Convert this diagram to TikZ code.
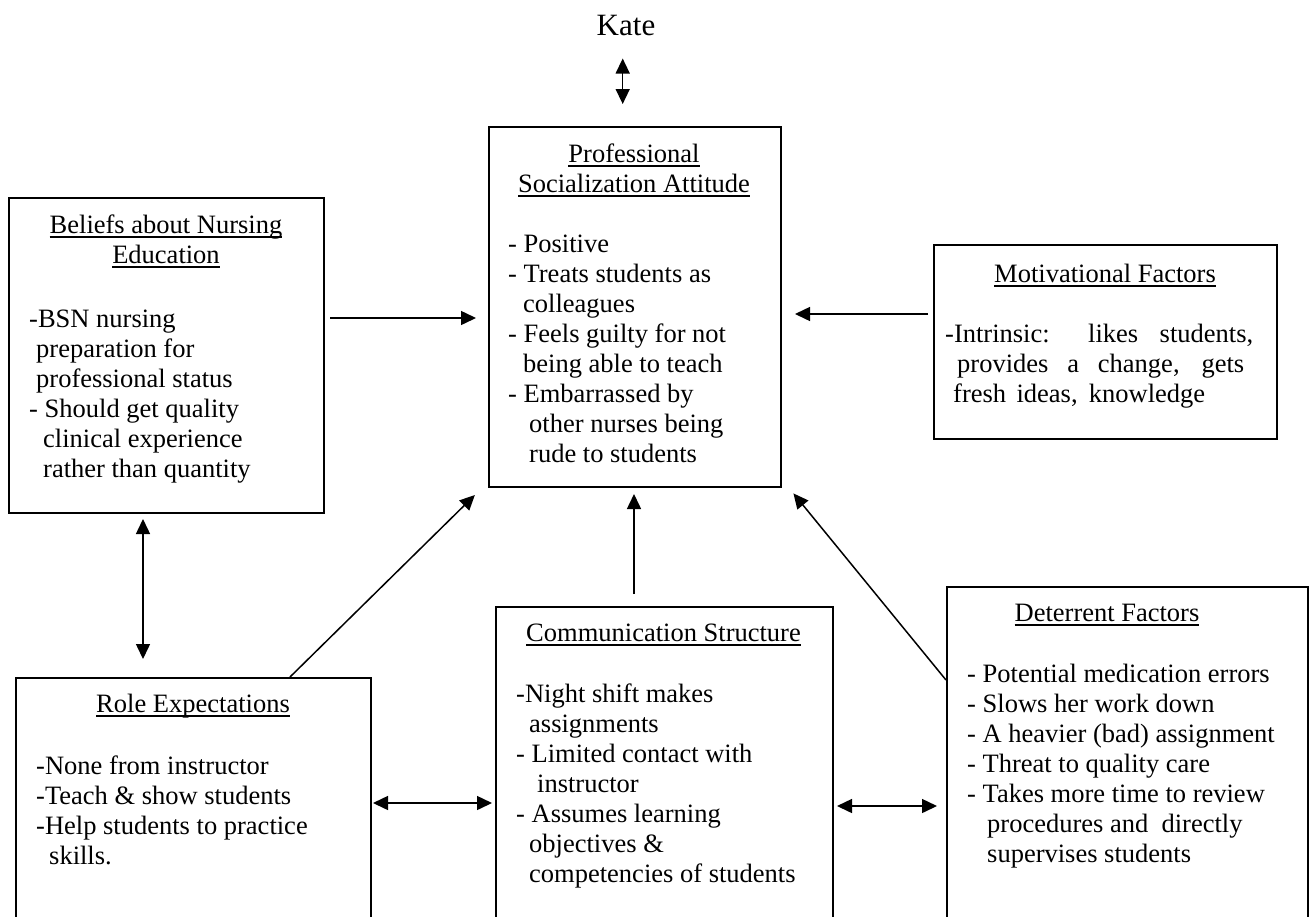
\documentclass[tikz,border=0pt]{standalone}
\usepackage{fontspec}
\setmainfont{Liberation Serif}
\usetikzlibrary{arrows.meta,calc}

% underline at a fixed distance below the baseline
\newsavebox\ulbox
\newcommand\ulin[1]{\sbox\ulbox{#1}\rlap{\rule[-4.5pt]{\wd\ulbox}{1.3pt}}\usebox\ulbox}

\tikzset{
  box/.style={draw, line width=2pt, anchor=north west, inner sep=0pt},
  txt/.style={inner sep=0pt, font=\fontsize{26.5}{30}\selectfont},
  body/.style={txt, align=left, anchor=north west},
  head/.style={txt, align=center, anchor=north},
  arr/.style={line width=1.5pt, -{Triangle[length=15pt,width=14pt]}},
  biarr/.style={line width=1.5pt, {Triangle[length=15pt,width=14pt]}-{Triangle[length=15pt,width=14pt]}},
}

\begin{document}
\begin{tikzpicture}[x=1pt,y=-1pt]
\useasboundingbox (0,0) rectangle (1309,916);
\clip (0,0) rectangle (1309,916);
\fill[white] (0,0) rectangle (1309,916);

% frames
\node[box, minimum width=292pt, minimum height=360pt] (P) at (488,126) {};
\node[box, minimum width=315pt, minimum height=315pt] (B) at (8,197) {};
\node[box, minimum width=343pt, minimum height=194pt] (M) at (933,244) {};
\node[box, minimum width=355pt, minimum height=270pt] (R) at (15,677) {};
\node[box, minimum width=337pt, minimum height=340pt] (C) at (495,606) {};
\node[box, minimum width=361pt, minimum height=360pt] (D) at (946,586) {};

% top label
\node[inner sep=0pt, font=\fontsize{31}{36}\selectfont, anchor=base] (K) at (626,35) {Kate};

% Professional Socialization Attitude
\node[head] (Pt) at (634,141) {\strut\ulin{Professional}\\\ulin{Socialization Attitude}};
\node[body] (Pb) at (508,231) {\strut- Positive\\
- Treats students as\\
\hspace*{15pt}colleagues\\
- Feels guilty for not\\
\hspace*{15pt}being able to teach\\
- Embarrassed by\\
\hspace*{21pt}other nurses being\\
\hspace*{21pt}rude to students};

% Beliefs about Nursing Education
\node[head] (Bt) at (166,212) {\strut\ulin{Beliefs about Nursing}\\\ulin{Education}};
\node[body] (Bb) at (29,306) {\strut-BSN nursing\\
\hspace*{7pt}preparation for\\
\hspace*{7pt}professional status\\
- Should get quality\\
\hspace*{14pt}clinical experience\\
\hspace*{14pt}rather than quantity};

% Motivational Factors (justified lines)
\node[head] (Mt) at (1105,261) {\strut\ulin{Motivational Factors}};
\node[body] (Mb) at (945,321) {\strut\makebox[308pt][s]{-Intrinsic: likes students,}\\
\hspace*{12pt}\makebox[287pt][s]{provides a change, gets}\\
\hspace*{8pt}\makebox[252pt][s]{fresh ideas, knowledge}};

% Role Expectations
\node[head] (Rt) at (193,691) {\strut\ulin{Role Expectations}};
\node[body] (Rb) at (36,753) {\strut-None from instructor\\
-Teach \& show students\\
-Help students to practice\\
\hspace*{13pt}skills.};

% Communication Structure
\node[head] (Ct) at (663.5,620) {\strut\ulin{Communication Structure}};
\node[body] (Cb) at (516,681) {\strut-Night shift makes\\
\hspace*{13pt}assignments\\
- Limited contact with\\
\hspace*{21pt}instructor\\
- Assumes learning\\
\hspace*{13pt}objectives \&\\
\hspace*{13pt}competencies of students};

% Deterrent Factors
\node[head] (Dt) at (1107,600) {\strut\ulin{Deterrent Factors}};
\node[body] (Db) at (967,661) {\strut- Potential medication errors\\
- Slows her work down\\
- A heavier (bad) assignment\\
- Threat to quality care\\
- Takes more time to review\\
\hspace*{20pt}procedures and\ \ directly\\
\hspace*{20pt}supervises students};

% connectors
\draw[biarr, shorten <=23pt, shorten >=22pt] ($(K.south)+(-3.3,0)$) -- ($(K.south |- P.north)+(-3.3,0)$);
\draw[arr, shorten <=5pt, shorten >=12pt] ($(B.north east)+(0,121)$) -- ($(P.north west)+(0,192)$);
\draw[arr, shorten <=5pt, shorten >=13pt] ($(M.north west)+(0,70)$) -- ($(P.north east)+(0,188)$);
\draw[biarr, shorten <=5pt, shorten >=18pt] ($(B.south west)+(135,0)$) -- ($(R.north west)+(128,0)$);
\draw[arr, shorten >=10pt] ($(R.north west)+(275,0)$) -- ($(P.south west)+(-6,0)$);
\draw[arr, shorten <=12pt, shorten >=6pt] ($(C.north)+(-30.5,0)$) -- ($(P.south)+(-1,0)$);
\draw[arr, shorten >=7pt] ($(D.north west)+(0,94)$) -- ($(P.south east)+(7,0)$);
\draw[biarr, shorten <=1pt, shorten >=3pt] ($(R.north east)+(0,126)$) -- ($(C.north west)+(0,197)$);
\draw[biarr, shorten <=3pt, shorten >=9pt] ($(C.north east)+(0,200)$) -- ($(D.north west)+(0,220)$);
\end{tikzpicture}
\end{document}
